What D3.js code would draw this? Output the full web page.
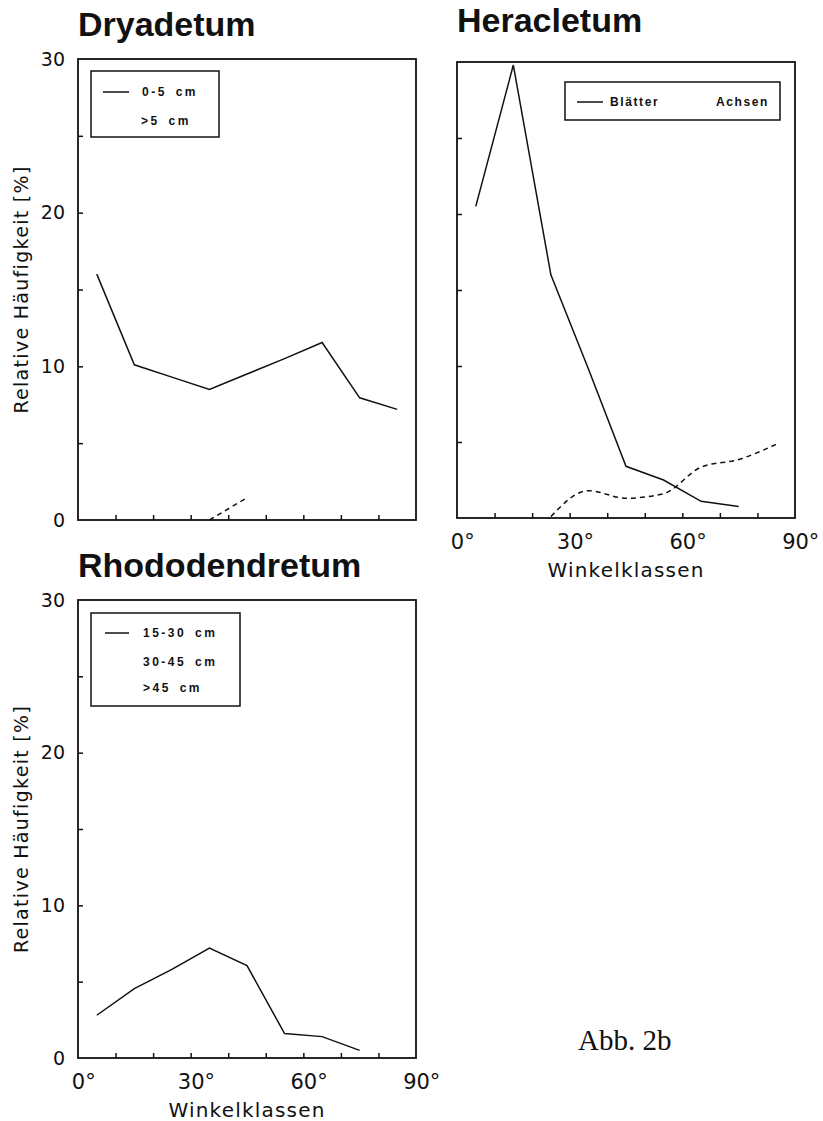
<!DOCTYPE html>
<html>
<head>
<meta charset="utf-8">
<script src="https://cdn.jsdelivr.net/npm/d3@7"></script>
<style>
  body { margin: 0; background: #fff; }
  svg { display: block; }
</style>
</head>
<body>
<svg id="chart"></svg>
<script>
// Winkelklassen (class midpoints, degrees)
const classes = [5, 15, 25, 35, 45, 55, 65, 75, 85];
const xTickLabels = [0, 30, 60, 90];
const yTickLabels = [0, 10, 20, 30];

// Dryadetum
const dryasSmall = [16.0, 10.1, 9.3, 8.5, 9.5, 10.5, 11.55, 7.95, 7.2];   // 0-5 cm
const dryasLarge = [null, null, null, 0, 1.45, null, null, null, null];   // >5 cm

// Heracletum
const heraBlaetter = [20.5, 29.8, 16.0, 9.8, 3.4, 2.5, 1.1, 0.75, null];
const heraAchsen = [null, null, 0.1, 1.8, 1.3, 1.6, 3.35, 3.85, 4.85];

// Rhododendretum
const rhodo1530 = [2.8, 4.55, 5.8, 7.2, 6.05, 1.6, 1.4, 0.5, null];

const W = 823, H = 1121;
const tickFont = "'DejaVu Sans', sans-serif";

const svg = d3.select("#chart")
  .attr("width", W)
  .attr("height", H)
  .attr("viewBox", [0, 0, W, H]);

svg.append("rect").attr("width", W).attr("height", H).attr("fill", "#fff");

function drawPanel(p) {
  const x = d3.scaleLinear().domain([0, 90]).range([p.left, p.right]);
  const y = d3.scaleLinear().domain([0, 30]).range([p.bottom, p.top]);
  const g = svg.append("g");

  // title
  g.append("text")
    .attr("x", p.left)
    .attr("y", p.titleY)
    .attr("font-family", "'Liberation Sans', Arial, sans-serif")
    .attr("font-weight", "bold")
    .attr("font-size", 34)
    .attr("fill", "#111")
    .text(p.title);

  // inner ticks
  g.append("g")
    .attr("transform", `translate(0,${p.bottom})`)
    .call(d3.axisBottom(x).tickValues(d3.range(10, 90, 10)).tickSize(-5).tickFormat(""))
    .call(a => a.select(".domain").remove())
    .call(a => a.selectAll("line").attr("stroke", "#111").attr("stroke-width", 1.5));
  g.append("g")
    .attr("transform", `translate(${p.left},0)`)
    .call(d3.axisLeft(y).tickValues(d3.range(5, 30, 5)).tickSize(-5).tickFormat(""))
    .call(a => a.select(".domain").remove())
    .call(a => a.selectAll("line").attr("stroke", "#111").attr("stroke-width", 1.5));

  if (p.yLabels) {
    g.append("g")
      .attr("transform", `translate(${p.left},0)`)
      .call(d3.axisLeft(y).tickValues(yTickLabels).tickSize(0).tickPadding(13))
      .call(a => a.select(".domain").remove())
      .call(a => a.selectAll("text")
        .attr("font-family", tickFont)
        .attr("font-size", 19).attr("fill", "#111"));
    g.append("text")
      .attr("transform", `translate(28,${(p.top + p.bottom) / 2}) rotate(-90)`)
      .attr("text-anchor", "middle")
      .attr("font-family", tickFont)
      .attr("font-size", 19)
      .attr("letter-spacing", 1.3)
      .attr("fill", "#111")
      .text("Relative Häufigkeit [%]");
  }
  if (p.xLabels) {
    g.append("g")
      .attr("transform", `translate(0,${p.bottom})`)
      .call(d3.axisBottom(x).tickValues(xTickLabels).tickSize(0).tickPadding(16)
        .tickFormat(d => d + "°"))
      .call(a => a.select(".domain").remove())
      .call(a => a.selectAll("text")
        .attr("dx", "0.25em")
        .attr("font-family", tickFont)
        .attr("font-size", 21).attr("fill", "#111"));
    g.append("text")
      .attr("x", (p.left + p.right) / 2)
      .attr("y", p.bottom + 59)
      .attr("text-anchor", "middle")
      .attr("font-family", tickFont)
      .attr("font-size", 20)
      .attr("letter-spacing", 1.2)
      .attr("fill", "#111")
      .text("Winkelklassen");
  }

  // data lines
  p.series.forEach(s => {
    const line = d3.line()
      .defined(d => d[1] != null)
      .x(d => x(d[0]))
      .y(d => y(d[1]))
      .curve(s.dash ? d3.curveMonotoneX : d3.curveLinear);
    g.append("path")
      .datum(classes.map((c, i) => [c, s.values[i]]))
      .attr("d", line)
      .attr("fill", "none")
      .attr("stroke", "#111")
      .attr("stroke-width", 1.5)
      .attr("stroke-dasharray", s.dash ? "5,4" : null);
  });

  // frame
  g.append("rect")
    .attr("x", p.left).attr("y", p.top)
    .attr("width", p.right - p.left).attr("height", p.bottom - p.top)
    .attr("fill", "none").attr("stroke", "#111").attr("stroke-width", 1.8);

  // legend
  const L = p.legend;
  g.append("rect")
    .attr("x", L.x).attr("y", L.y).attr("width", L.w).attr("height", L.h)
    .attr("fill", "#fff").attr("stroke", "#111").attr("stroke-width", 1.5);
  g.append("line")
    .attr("x1", L.lineX1).attr("x2", L.lineX2)
    .attr("y1", L.items[0].y).attr("y2", L.items[0].y)
    .attr("stroke", "#111").attr("stroke-width", 1.5);
  g.selectAll(".leg")
    .data(L.items)
    .join("text")
      .attr("x", d => d.x)
      .attr("y", d => d.y)
      .attr("dy", "0.36em")
      .attr("font-family", "'Liberation Sans', Arial, sans-serif")
      .attr("font-weight", "bold")
      .attr("font-size", 12)
      .attr("letter-spacing", L.spacing)
      .attr("word-spacing", 3)
      .attr("fill", "#111")
      .text(d => d.label);
}

drawPanel({
  title: "Dryadetum", titleY: 36,
  left: 78, right: 416, top: 59, bottom: 520,
  yLabels: true, xLabels: false,
  series: [{ values: dryasSmall }, { values: dryasLarge, dash: true }],
  legend: {
    x: 91, y: 71, w: 128, h: 66, lineX1: 103, lineX2: 129, spacing: 2.5,
    items: [{ label: "0-5 cm", x: 142, y: 92 }, { label: ">5 cm", x: 141, y: 121 }]
  }
});

drawPanel({
  title: "Heracletum", titleY: 32,
  left: 457, right: 795, top: 62, bottom: 518,
  yLabels: false, xLabels: true,
  series: [{ values: heraBlaetter }, { values: heraAchsen, dash: true }],
  legend: {
    x: 565, y: 82, w: 215, h: 38, lineX1: 577, lineX2: 603, spacing: 1.6,
    items: [{ label: "Blätter", x: 610, y: 102 }, { label: "Achsen", x: 716, y: 102 }]
  }
});

drawPanel({
  title: "Rhododendretum", titleY: 577,
  left: 78, right: 416, top: 600, bottom: 1058,
  yLabels: true, xLabels: true,
  series: [{ values: rhodo1530 }],
  legend: {
    x: 91, y: 613, w: 149, h: 93, lineX1: 105, lineX2: 129, spacing: 2.5,
    items: [
      { label: "15-30 cm", x: 143, y: 633 },
      { label: "30-45 cm", x: 143, y: 662 },
      { label: ">45 cm", x: 143, y: 688 }
    ]
  }
});

svg.append("text")
  .attr("x", 578)
  .attr("y", 1050)
  .attr("font-family", "'Liberation Serif', 'Times New Roman', serif")
  .attr("font-size", 29)
  .attr("fill", "#111")
  .text("Abb. 2b");
</script>
</body>
</html>
